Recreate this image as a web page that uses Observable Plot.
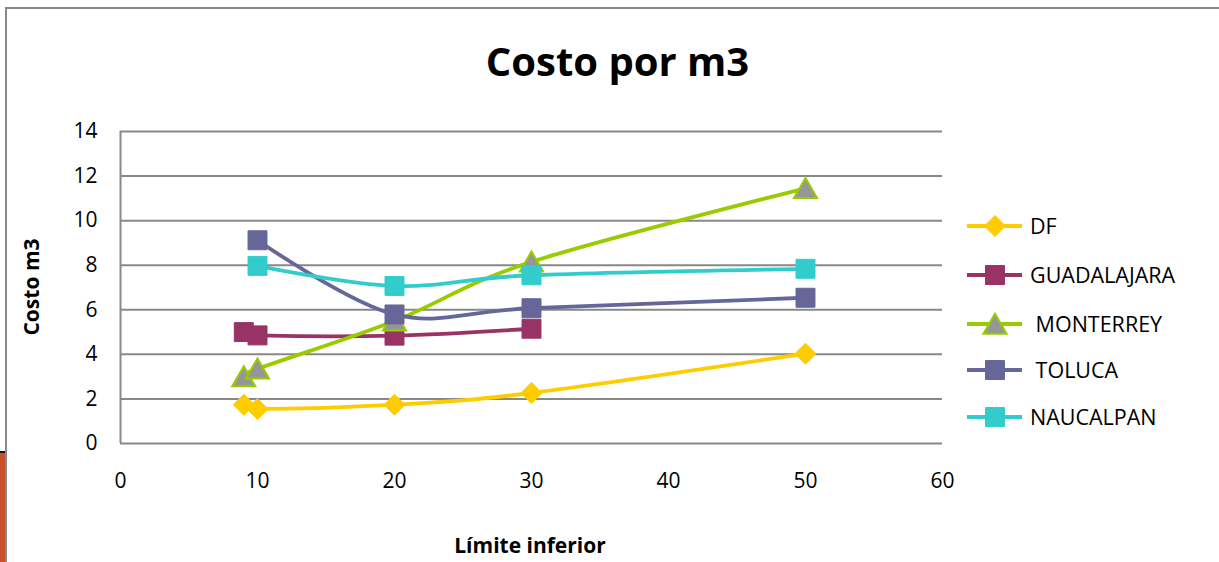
<!DOCTYPE html>
<html>
<head>
<meta charset="utf-8">
<script src="https://cdn.jsdelivr.net/npm/d3@7"></script>
<script src="https://cdn.jsdelivr.net/npm/@observablehq/plot@0.6"></script>
<style>
  html, body { margin: 0; padding: 0; background: #fff; }
  #wrap { position: relative; width: 1219px; height: 562px; overflow: hidden; background: #fff; font-family: "Open Sans", sans-serif; }
  #frame { position: absolute; left: 5px; top: 7px; width: 1300px; height: 700px; border: 2px solid #888; box-sizing: border-box; }
  #deco { position: absolute; left: 0; top: 451px; width: 5px; height: 111px; background: #c9502e; border-top: 2px solid #111; }
  #chart { position: absolute; left: 0; top: 0; }
  #overlay { position: absolute; left: 0; top: 0; pointer-events: none; }
</style>
</head>
<body>
<div id="wrap">
  <div id="deco"></div>
  <div id="frame"></div>
  <div id="chart"></div>
  <svg id="overlay" width="1219" height="562"></svg>
</div>
<script>
// ---- data ----
const seriesNames = ["DF", "GUADALAJARA", " MONTERREY", " TOLUCA", "NAUCALPAN"];
const dfX = [9, 10, 20, 30, 50];
const dfY = [1.74, 1.55, 1.74, 2.27, 4.03];
const guadalajaraX = [9, 10, 20, 30];
const guadalajaraY = [5.0, 4.85, 4.84, 5.15];
const monterreyX = [9, 10, 20, 30, 50];
const monterreyY = [3.0, 3.35, 5.5, 8.15, 11.45];
const tolucaX = [10, 20, 30, 50];
const tolucaY = [9.12, 5.79, 6.07, 6.54];
const naucalpanX = [10, 20, 30, 50];
const naucalpanY = [7.97, 7.07, 7.55, 7.84];
const xTicks = [0, 10, 20, 30, 40, 50, 60];
const yTicks = [0, 2, 4, 6, 8, 10, 12, 14];
const titleText = "Costo por m3";
const xLabel = "Límite inferior";
const yLabel = "Costo m3";

// ---- styles ----
const lineColors = ["#FFCC00", "#993366", "#99CC00", "#666699", "#33CCCC"];
const markerFill = ["#FFCC00", "#993366", "#969696", "#666699", "#33CCCC"];
const markerStroke = ["#FFCC00", "#993366", "#99CC00", "#666699", "#33CCCC"];
const markerSymbol = ["diamond2", "square", "triangle", "square", "square"];
const markerR = [9.5, 10.7, 8.6, 10.7, 10.7];
const markerDy = [0, 0, 3, 0, 0];

const xsAll = [dfX, guadalajaraX, monterreyX, tolucaX, naucalpanX];
const ysAll = [dfY, guadalajaraY, monterreyY, tolucaY, naucalpanY];
const tables = seriesNames.map((name, i) => xsAll[i].map((x, j) => ({ series: name, x, y: ysAll[i][j] })));

const marks = [
  Plot.ruleY(yTicks, { stroke: "#888", strokeWidth: 2, strokeOpacity: 1 }),
  Plot.ruleX([0], { y1: 0, y2: 14, stroke: "#888", strokeWidth: 2, strokeOpacity: 1 }),
  Plot.axisX({ ticks: xTicks, tickSize: 0, tickPadding: 30, label: null, tickFormat: d => String(d) }),
  Plot.axisY({ ticks: yTicks, tickSize: 0, tickPadding: 23, label: null, tickFormat: d => String(d) })
];
tables.forEach((t, i) => {
  marks.push(Plot.line(t, { x: "x", y: "y", stroke: lineColors[i], strokeWidth: 3.8, curve: "cardinal" }));
  marks.push(Plot.dot(t, {
    x: "x", y: "y", symbol: markerSymbol[i], r: markerR[i], dy: markerDy[i],
    fill: markerFill[i], stroke: markerStroke[i], strokeWidth: i === 2 ? 2 : 1, fillOpacity: 1
  }));
});

const chart = Plot.plot({
  width: 1219,
  height: 562,
  marginLeft: 120,
  marginRight: 277,
  marginTop: 131,
  marginBottom: 119,
  x: { domain: [0, 60] },
  y: { domain: [0, 14] },
  style: { fontFamily: "Open Sans", fontSize: "21px", color: "#000", background: "transparent", overflow: "visible" },
  marks
});
document.getElementById("chart").appendChild(chart);

// ---- overlay: title, axis titles, legend ----
const ov = d3.select("#overlay");
ov.append("text").attr("x", 617.5).attr("y", 76).attr("text-anchor", "middle")
  .attr("font-family", "Open Sans").attr("font-weight", "bold").attr("font-size", 40).attr("fill", "#000")
  .text(titleText);
ov.append("text").attr("x", 530).attr("y", 553).attr("text-anchor", "middle")
  .attr("font-family", "Open Sans").attr("font-weight", "bold").attr("font-size", 21).attr("fill", "#000")
  .text(xLabel);
ov.append("text").attr("transform", "translate(38.5,287) rotate(-90)").attr("text-anchor", "middle")
  .attr("font-family", "Open Sans").attr("font-weight", "bold").attr("font-size", 21).attr("fill", "#000")
  .text(yLabel);

const legendY = [226, 275, 324, 370, 417];
const symMap = { diamond2: d3.symbolDiamond2, square: d3.symbolSquare, triangle: d3.symbolTriangle };
seriesNames.forEach((name, i) => {
  const g = ov.append("g").attr("transform", `translate(0,${legendY[i]})`);
  g.append("line").attr("x1", 967).attr("x2", 1022).attr("y1", 0).attr("y2", 0)
    .attr("stroke", lineColors[i]).attr("stroke-width", 3.8);
  g.append("path").attr("transform", `translate(995,${markerDy[i]})`)
    .attr("d", d3.symbol(symMap[markerSymbol[i]], Math.PI * markerR[i] * markerR[i])())
    .attr("fill", markerFill[i]).attr("stroke", markerStroke[i]).attr("stroke-width", i === 2 ? 2 : 1);
  g.append("text").attr("x", 1030).attr("y", 7.8).attr("font-family", "Open Sans").attr("font-size", 21.5)
    .attr("fill", "#000").style("white-space", "pre").text(name);
});
</script>
</body>
</html>
